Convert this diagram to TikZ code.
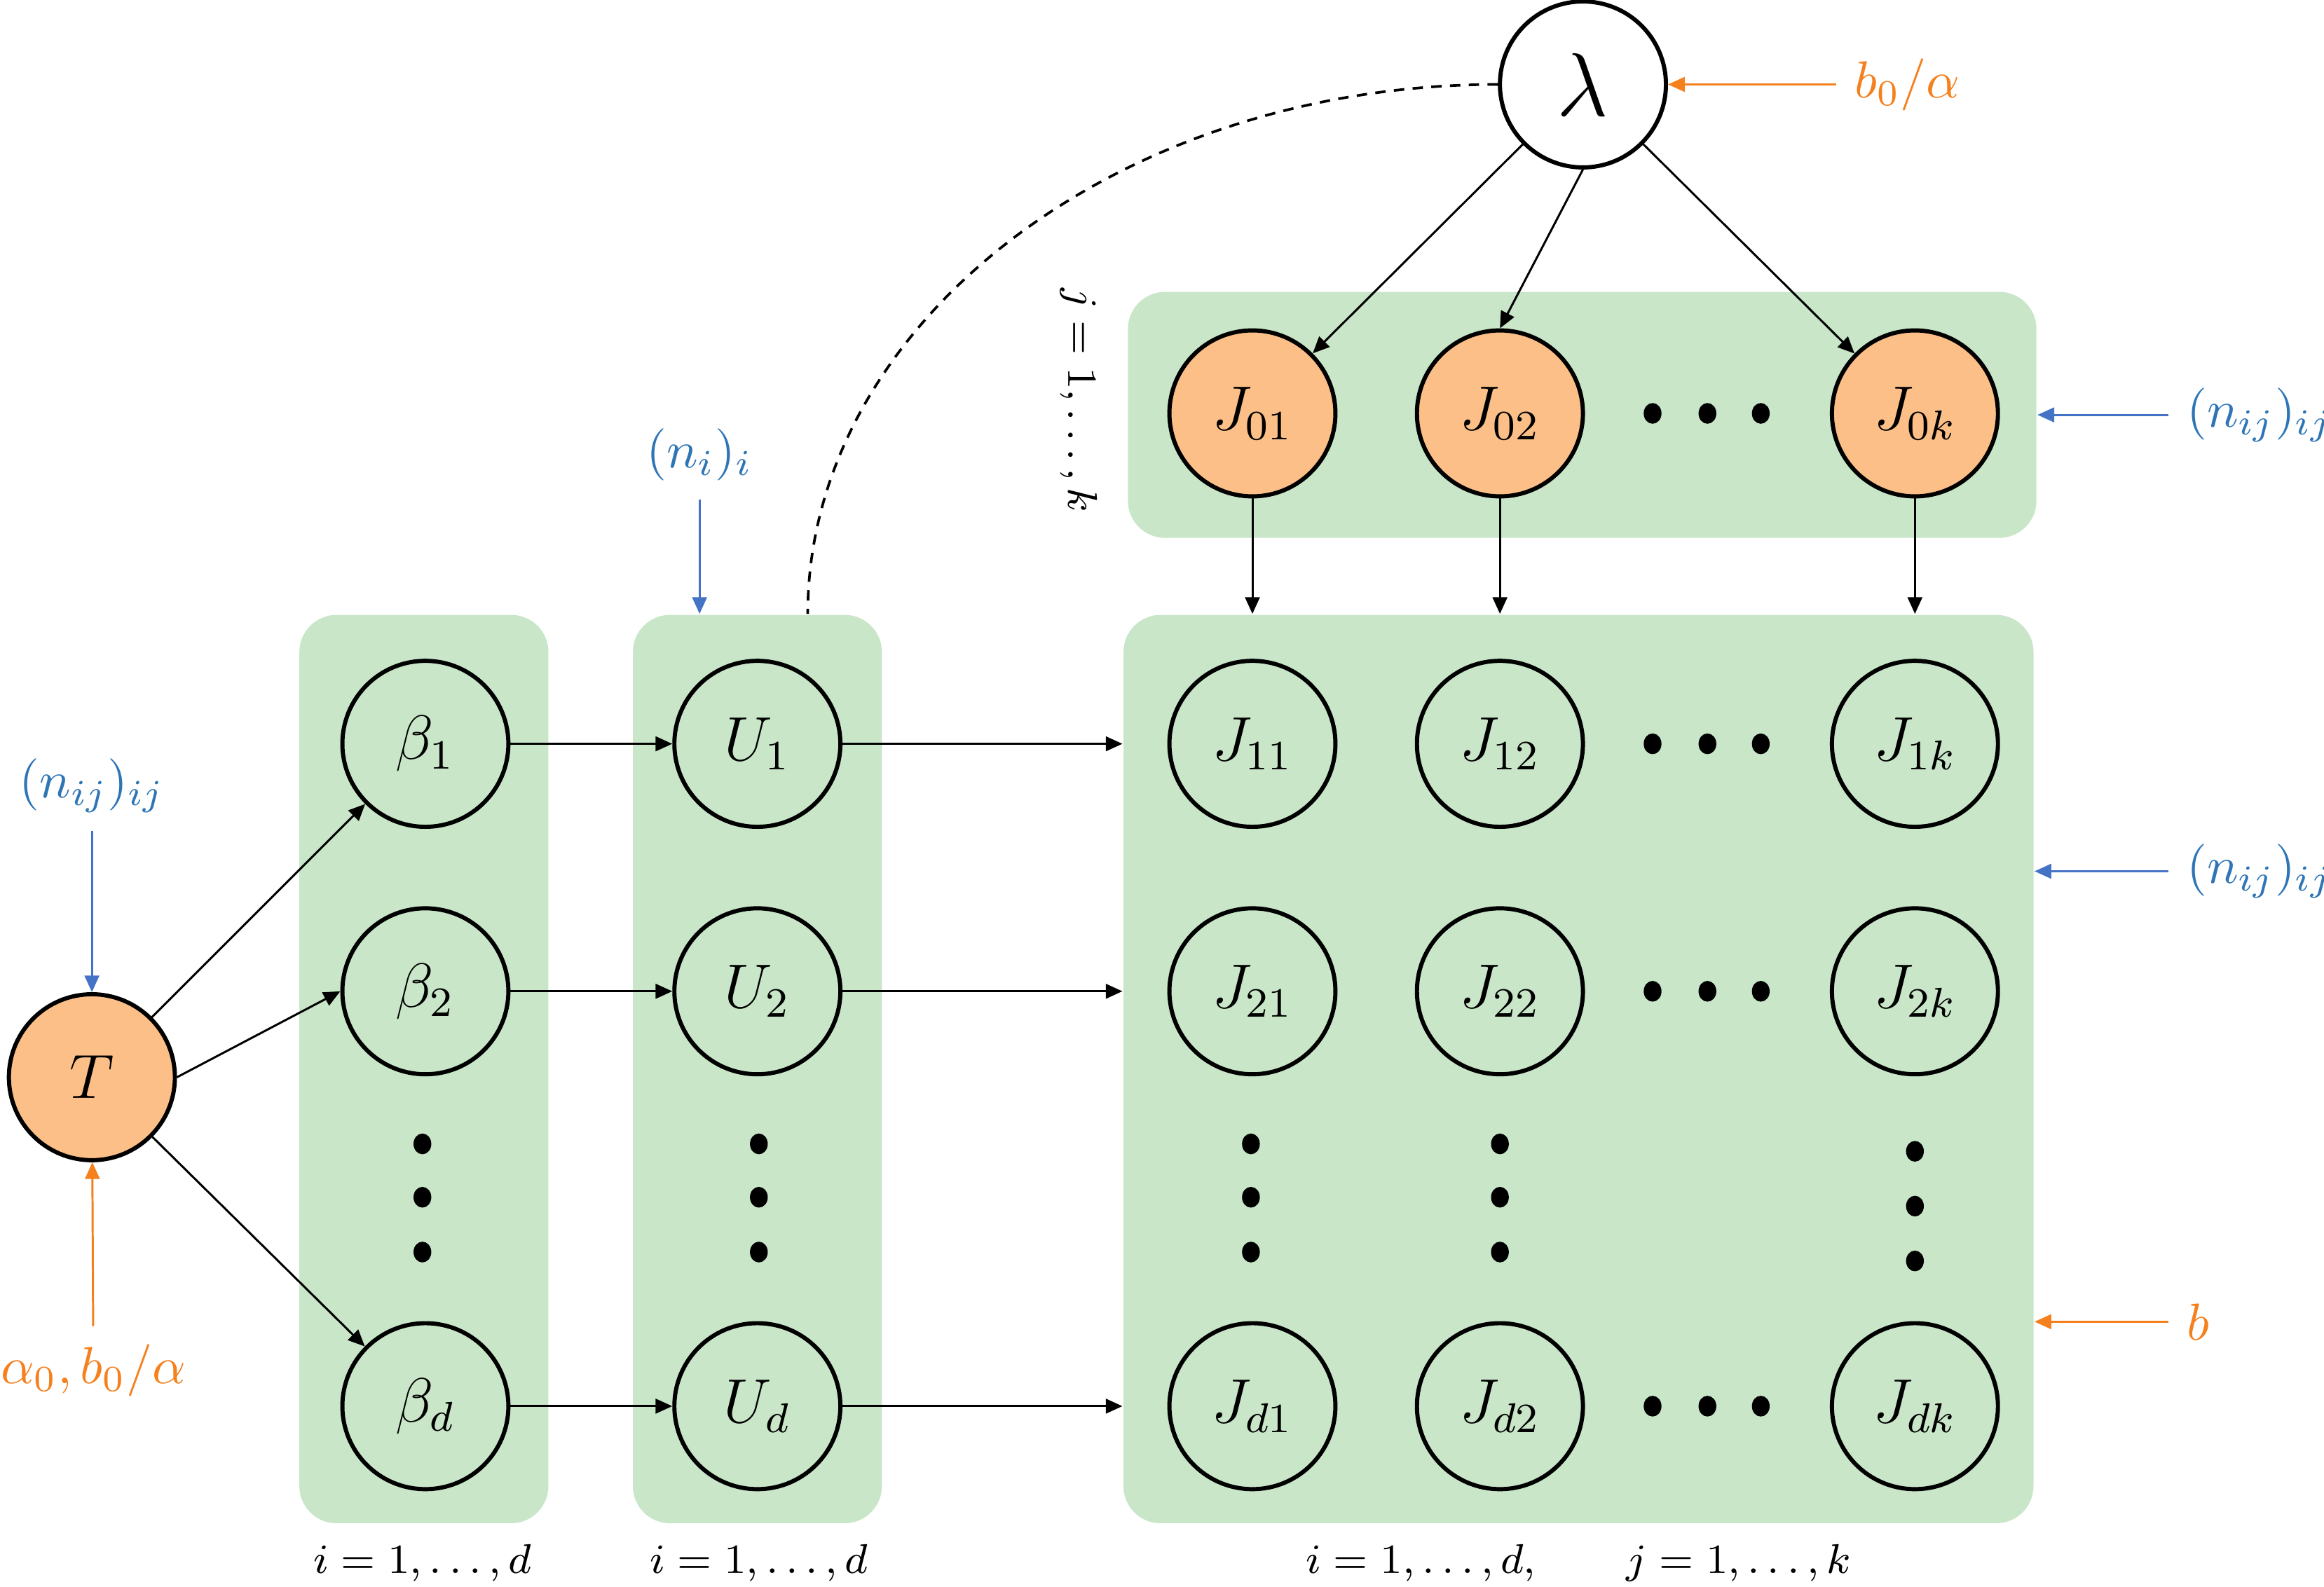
\documentclass[tikz,border=0pt]{standalone}
\usepackage{tikz}
\usetikzlibrary{arrows.meta}
\definecolor{platefill}{RGB}{201,230,201}
\definecolor{obsfill}{RGB}{251,191,135}
\definecolor{hypblue}{RGB}{46,117,182}
\definecolor{hyparrow}{RGB}{68,114,196}
\definecolor{hyporange}{RGB}{245,128,30}

\begin{document}
\begin{tikzpicture}[x=0.1mm,y=-0.1mm,
	platebox/.style={fill=platefill,rounded corners=2.5mm,minimum width=16.8mm,minimum height=61.3mm,inner sep=0pt},
	rvnode/.style={circle,draw,line width=0.8pt,minimum size=11.2mm,inner sep=0pt,fill=platefill,font=\fontsize{12}{14}\selectfont},
	obsnode/.style={rvnode,fill=obsfill},
	edge/.style={-{Triangle[length=3.2pt,width=2.8pt]},line width=0.4pt},
	blueedge/.style={edge,draw=hyparrow},
	orangeedge/.style={edge,draw=hyporange},
	bluelabel/.style={text=hypblue,font=\fontsize{10}{12}\selectfont},
	orangelabel/.style={text=hyporange,font=\fontsize{10}{12}\selectfont},
	idx/.style={font=\fontsize{8}{10}\selectfont}]
	\useasboundingbox (0,0) rectangle (1568,1071);

	\node[platebox] (Bbox) at (286,721.5) {};
	\node[platebox] (Ubox) at (511,721.5) {};
	\node[platebox,minimum width=61.4mm] (Jbox) at (1065,721.5) {};
	\node[platebox,minimum width=61.3mm,minimum height=16.6mm] (J0box) at (1067.5,280) {};

	\node[obsnode] (T) at (62,727) {$T$};
	\node[rvnode,fill=white,font=\fontsize{17}{20}\selectfont] (lam) at (1068,57) {$\lambda$};

	\foreach \r/\y in {1/502,2/669,d/949} {
		\node[rvnode] (b\r) at (287,\y) {$\beta_\r$};
		\node[rvnode] (U\r) at (511,\y) {$U_\r$};
	}
	\foreach \c/\x in {1/845,2/1012,k/1292} {
		\node[obsnode] (J0\c) at (\x,279) {$J_{0\c}$};
		\foreach \r/\y in {1/502,2/669,d/949}
			\node[rvnode] (J\r\c) at (\x,\y) {$J_{\r\c}$};
	}

	\foreach \y in {279,502,669,949}
		\foreach \x in {1115,1152,1188}
			\fill (\x,\y) ellipse (0.6mm and 0.7mm);
	\foreach \x in {285,512,844,1012}
		\foreach \y in {772,808,845}
			\fill (\x,\y) ellipse (0.6mm and 0.7mm);
	\foreach \y in {777,814,851}
		\fill (1292,\y) ellipse (0.6mm and 0.7mm);

	\draw[edge] (T) -- (b1);
	\draw[edge] (T.east) -- (b2.west);
	\draw[edge] (T) -- (bd);
	\foreach \r in {1,2,d} {
		\draw[edge] (b\r) -- (U\r);
		\draw[edge] (U\r) -- (U\r -| Jbox.west);
	}
	\draw[edge] (lam) -- (J01);
	\draw[edge] (lam.south) -- (J02.north);
	\draw[edge] (lam) -- (J0k);
	\foreach \c in {1,2,k}
		\draw[edge] (J0\c) -- (J0\c |- Jbox.north);
	\draw[line width=0.5pt,dash pattern=on 2pt off 1.6pt] (lam.west) .. controls (755,57) and (545,218) .. ([xshift=3.4mm]Ubox.north);

	\node[bluelabel] (nijT) at (62,530) {$(n_{ij})_{ij}$};
	\node[orangelabel] (aT) at (63,925) {$\alpha_0, b_0/\alpha$};
	\node[bluelabel] (niU) at (472,307) {$(n_i)_i$};
	\node[orangelabel,anchor=west] (b0lam) at (1239,57) {$b_0/\alpha$};
	\node[bluelabel,anchor=west] (nij0) at (1463,280) {$(n_{ij})_{ij}$};
	\node[bluelabel,anchor=west] (nijJ) at (1463,588) {$(n_{ij})_{ij}$};
	\node[orangelabel,anchor=west] (bJ) at (1463,892) {$b$};
	\draw[blueedge] (nijT) -- (T);
	\draw[orangeedge] (aT) -- (T);
	\draw[blueedge] (niU) -- (niU |- Ubox.north);
	\draw[orangeedge] (b0lam.west) -- (lam.east);
	\draw[blueedge] (nij0.west) -- (nij0.west -| J0box.east);
	\draw[blueedge] (nijJ.west) -- (nijJ.west -| Jbox.east);
	\draw[orangeedge] (bJ.west) -- (bJ.west -| Jbox.east);

	\node[idx] (iB) at (285,1055) {$i = 1, \dots, d$};
	\node[idx] (iU) at (512,1055) {$i = 1, \dots, d$};
	\node[idx] (ijJ) at (1065,1055) {$i = 1, \dots, d, \qquad j = 1, \dots, k$};
	\node[idx,rotate=-90] (jJ0) at (728,270) {$j = 1, \dots, k$};
\end{tikzpicture}
\end{document}
